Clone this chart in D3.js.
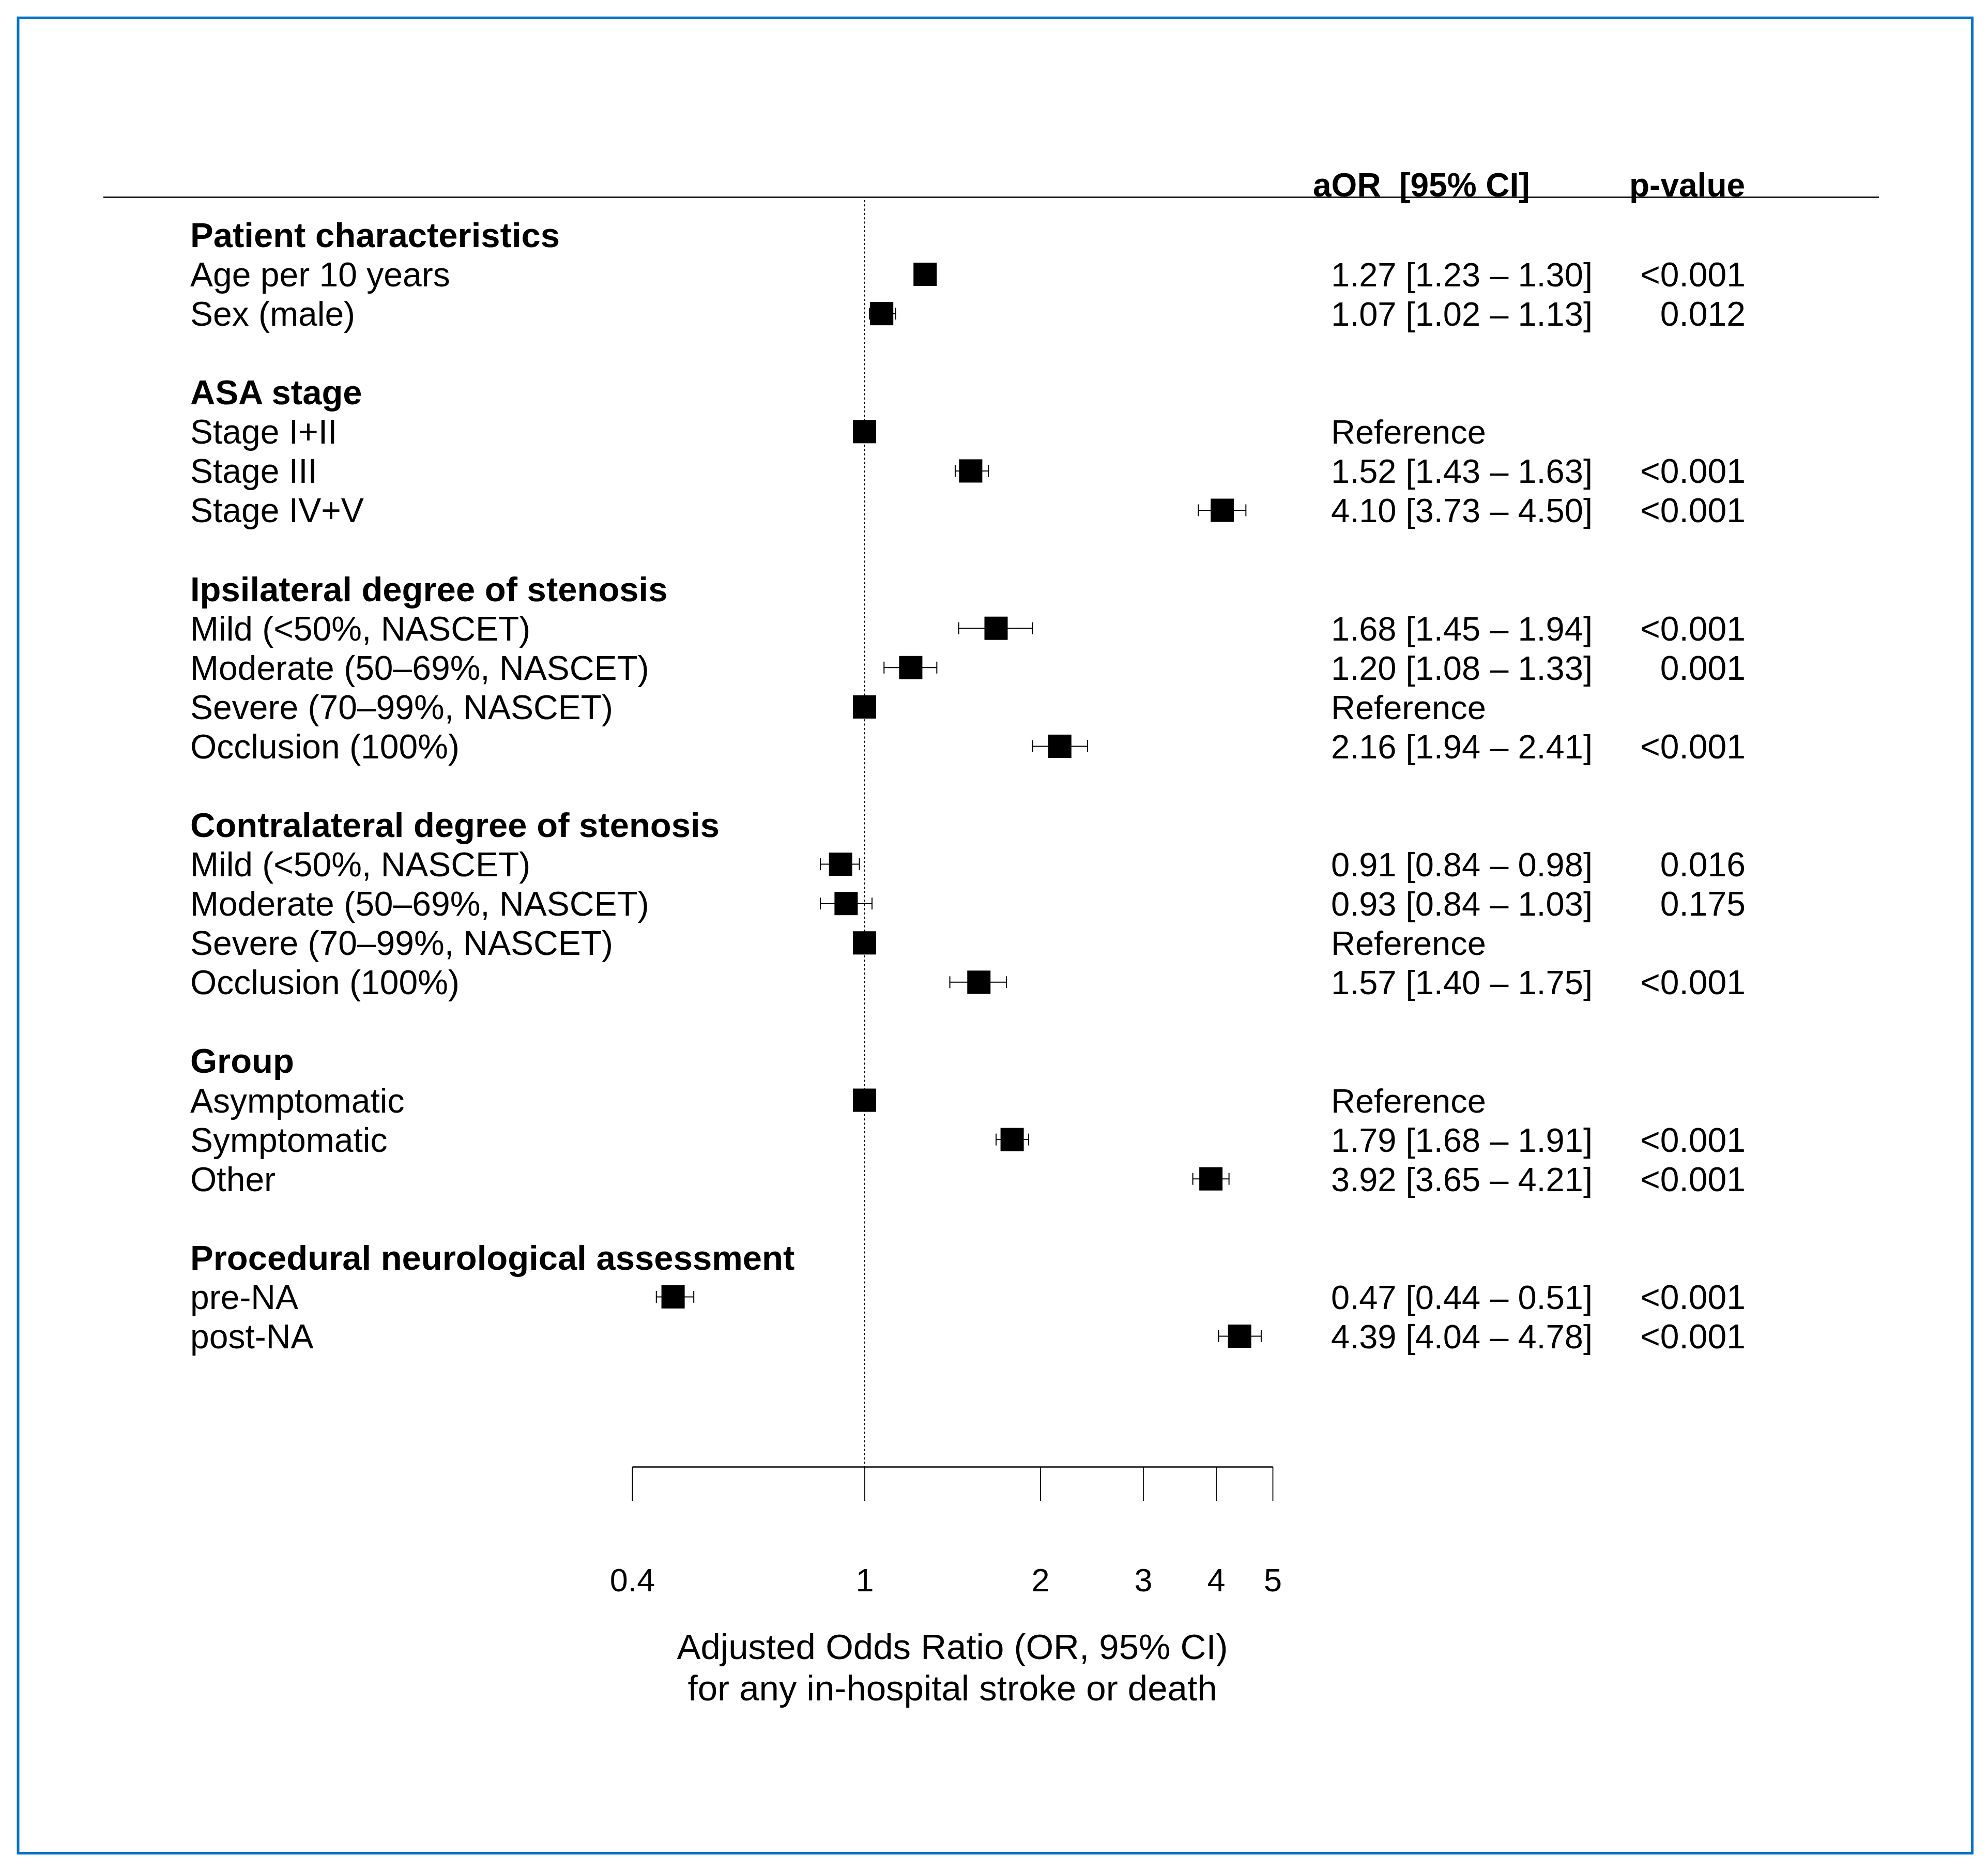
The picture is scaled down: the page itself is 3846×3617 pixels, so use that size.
<!DOCTYPE html>
<html>
<head>
<meta charset="utf-8">
<script src="https://cdn.jsdelivr.net/npm/d3@7"></script>
<style>
  html, body { margin: 0; padding: 0; background: #fff; }
  svg { display: block; }
  text { font-family: "Liberation Sans", Arial, Helvetica, sans-serif; fill: #000; }
</style>
</head>
<body>
<svg id="chart" width="3846" height="3617"></svg>
<script>
// ---------------- data ----------------
const rowLabels = [
  "Patient characteristics", "Age per 10 years", "Sex (male)", "",
  "ASA stage", "Stage I+II", "Stage III", "Stage IV+V", "",
  "Ipsilateral degree of stenosis", "Mild (<50%, NASCET)", "Moderate (50–69%, NASCET)",
  "Severe (70–99%, NASCET)", "Occlusion (100%)", "",
  "Contralateral degree of stenosis", "Mild (<50%, NASCET)", "Moderate (50–69%, NASCET)",
  "Severe (70–99%, NASCET)", "Occlusion (100%)", "",
  "Group", "Asymptomatic", "Symptomatic", "Other", "",
  "Procedural neurological assessment", "pre-NA", "post-NA"
];
const groupHeaderRows = [0, 4, 9, 15, 21, 26];
const oddsRatio = [null, 1.27, 1.07, null, null, 1, 1.52, 4.10, null, null, 1.68, 1.20, 1, 2.16, null,
  null, 0.91, 0.93, 1, 1.57, null, null, 1, 1.79, 3.92, null, null, 0.47, 4.39];
const ciLower = [null, 1.23, 1.02, null, null, null, 1.43, 3.73, null, null, 1.45, 1.08, null, 1.94, null,
  null, 0.84, 0.84, null, 1.40, null, null, null, 1.68, 3.65, null, null, 0.44, 4.04];
const ciUpper = [null, 1.30, 1.13, null, null, null, 1.63, 4.50, null, null, 1.94, 1.33, null, 2.41, null,
  null, 0.98, 1.03, null, 1.75, null, null, null, 1.91, 4.21, null, null, 0.51, 4.78];
const pValues = ["", "<0.001", "0.012", "", "", "", "<0.001", "<0.001", "", "", "<0.001", "0.001", "", "<0.001", "",
  "", "0.016", "0.175", "", "<0.001", "", "", "", "<0.001", "<0.001", "", "", "<0.001", "<0.001"];
const tickValues = [0.4, 1, 2, 3, 4, 5];
const columnHeaders = ["aOR  [95% CI]", "p-value"];
const axisTitle = ["Adjusted Odds Ratio (OR, 95% CI)", "for any in-hospital stroke or death"];

// ---------------- layout ----------------
const svg = d3.select("#chart");
const fs = 66;
const x = d3.scaleLog().domain([0.4, 5]).range([1223, 2462]);
const y = d3.scaleLinear().domain([0, 28]).range([454.5, 454.5 + 28 * 76.07]);
const labelX = 368, aorX = 2575, pRight = 3377;
const axisY = 2837;
const box = 45, capH = 23;
const fmt = d3.format(".2f");

// border
svg.append("rect").attr("x", 35).attr("y", 34.5).attr("width", 3815.5 - 35).attr("height", 3584.5 - 34.5)
  .attr("fill", "none").attr("stroke", "#0072C6").attr("stroke-width", 5);

// header line
svg.append("line").attr("x1", 200).attr("x2", 3635).attr("y1", 381.5).attr("y2", 381.5)
  .attr("stroke", "#000").attr("stroke-width", 2.5);

// column headers
svg.append("text").attr("x", 2540).attr("y", 380).attr("font-size", 64).attr("font-weight", "bold")
  .attr("xml:space", "preserve").style("white-space", "pre").text(columnHeaders[0]);
svg.append("text").attr("x", 3152).attr("y", 380).attr("font-size", 64).attr("font-weight", "bold")
  .text(columnHeaders[1]);

// reference line at 1
svg.append("line").attr("x1", x(1)).attr("x2", x(1)).attr("y1", 387).attr("y2", axisY)
  .attr("stroke", "#000").attr("stroke-width", 2).attr("stroke-dasharray", "4,4.3");

// row labels
const rows = rowLabels.map((l, i) => ({
  i, label: l, header: groupHeaderRows.includes(i),
  or: oddsRatio[i], lo: ciLower[i], hi: ciUpper[i], p: pValues[i]
}));

svg.append("g").selectAll("text").data(rows.filter(d => d.label)).join("text")
  .attr("x", labelX).attr("y", d => y(d.i) + 23.5)
  .attr("font-size", d => d.header ? 67 : fs).attr("font-weight", d => d.header ? "bold" : "normal")
  .text(d => d.label);

// aOR text
const est = rows.filter(d => d.or != null);
svg.append("g").selectAll("text").data(est).join("text")
  .attr("x", aorX).attr("y", d => y(d.i) + 23.5).attr("font-size", 65)
  .text(d => d.lo == null ? "Reference" : `${fmt(d.or)} [${fmt(d.lo)} – ${fmt(d.hi)}]`);

// p-values
svg.append("g").selectAll("text").data(rows.filter(d => d.p)).join("text")
  .attr("x", pRight).attr("y", d => y(d.i) + 23.5).attr("font-size", fs).attr("text-anchor", "end")
  .text(d => d.p);

// CI whiskers
const ci = est.filter(d => d.lo != null);
const wg = svg.append("g").attr("stroke", "#000").attr("stroke-width", 2);
wg.selectAll("line.h").data(ci).join("line").attr("class", "h")
  .attr("x1", d => x(d.lo)).attr("x2", d => x(d.hi)).attr("y1", d => y(d.i)).attr("y2", d => y(d.i));
wg.selectAll("line.l").data(ci).join("line").attr("class", "l")
  .attr("x1", d => x(d.lo)).attr("x2", d => x(d.lo)).attr("y1", d => y(d.i) - capH / 2).attr("y2", d => y(d.i) + capH / 2);
wg.selectAll("line.r").data(ci).join("line").attr("class", "r")
  .attr("x1", d => x(d.hi)).attr("x2", d => x(d.hi)).attr("y1", d => y(d.i) - capH / 2).attr("y2", d => y(d.i) + capH / 2);

// boxes
svg.append("g").selectAll("rect").data(est).join("rect")
  .attr("x", d => x(d.or) - box / 2).attr("y", d => y(d.i) - box / 2)
  .attr("width", box).attr("height", box).attr("fill", "#000");

// x axis
const axis = d3.axisBottom(x).tickValues(tickValues).tickFormat(d => String(d))
  .tickSize(66).tickSizeOuter(0).tickPadding(130);
const ag = svg.append("g").attr("transform", `translate(0,${axisY})`).call(axis);
ag.select(".domain").attr("stroke", "#000").attr("stroke-width", 2.5);
ag.selectAll(".tick line").attr("stroke", "#000").attr("stroke-width", 1.8);
ag.selectAll(".tick text").attr("font-size", 63).attr("font-family", "Liberation Sans, Arial, sans-serif").attr("fill", "#000");

// axis title
const cx = (x.range()[0] + x.range()[1]) / 2;
svg.append("text").attr("x", cx).attr("y", 3209).attr("font-size", 69).attr("text-anchor", "middle").text(axisTitle[0]);
svg.append("text").attr("x", cx).attr("y", 3289).attr("font-size", 69).attr("text-anchor", "middle").text(axisTitle[1]);
</script>
</body>
</html>
